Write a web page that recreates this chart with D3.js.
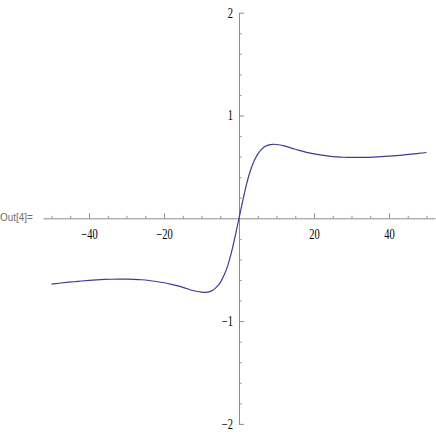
<!DOCTYPE html>
<html>
<head>
<meta charset="utf-8">
<script src="https://cdn.jsdelivr.net/npm/d3@7"></script>
<style>
  html, body { margin: 0; padding: 0; background: #fff; }
  svg { display: block; }
</style>
</head>
<body>
<svg id="chart" width="436" height="436"></svg>
<script>
// values
const curveX = [-50, -48, -46, -44, -42, -40, -38, -36, -34, -32, -30, -28, -26, -24, -22, -20,
  -18, -16, -14, -12, -10, -9, -8, -7, -6, -5, -4, -3, -2, -1, 0,
  1, 2, 3, 4, 5, 6, 7, 8, 9, 10, 12, 14, 16, 18, 20,
  22, 24, 26, 28, 30, 32, 34, 36, 38, 40, 42, 44, 46, 48, 50];
const curveY = [-0.64, -0.632, -0.624, -0.617, -0.61, -0.604, -0.599, -0.595, -0.593, -0.592, -0.592, -0.594, -0.598, -0.605, -0.615, -0.627,
  -0.642, -0.66, -0.683, -0.705, -0.718, -0.72, -0.715, -0.7, -0.67, -0.625, -0.555, -0.46, -0.33, -0.17, 0,
  0.17, 0.33, 0.46, 0.555, 0.625, 0.67, 0.7, 0.715, 0.72, 0.718, 0.705, 0.683, 0.66, 0.642, 0.627,
  0.615, 0.605, 0.598, 0.594, 0.592, 0.592, 0.593, 0.595, 0.599, 0.604, 0.61, 0.617, 0.624, 0.632, 0.64];

const xMajor = [-40, -20, 20, 40];
const xMinor = [-50, -45, -35, -30, -25, -15, -10, -5, 5, 10, 15, 25, 30, 35, 45, 50];
const yMajor = [-2, -1, 1, 2];
const yMinor = [-1.8, -1.6, -1.4, -1.2, -0.8, -0.6, -0.4, -0.2, 0.2, 0.4, 0.6, 0.8, 1.2, 1.4, 1.6, 1.8];
const outLabel = 'Out[4]=';

const svg = d3.select('#chart');

const x = d3.scaleLinear().domain([-52.27, 52.27]).range([43, 435]);
const y = d3.scaleLinear().domain([-2, 2]).range([423.9, 12.7]);

const axisColor = '#8c8c8c';
const fmt = (d) => (d < 0 ? '\u2212' + Math.abs(d) : String(d));

// x axis (ticks pointing up)
const xAxisG = svg.append('g').attr('transform', `translate(0,${y(0)})`);
xAxisG.append('g')
  .call(d3.axisBottom(x).tickValues(xMinor).tickSizeInner(-2.5).tickSizeOuter(0).tickFormat(''))
  .call((g) => g.select('.domain').remove());
xAxisG.append('g')
  .call(d3.axisBottom(x).tickValues(xMajor).tickSizeInner(-5).tickSizeOuter(0).tickPadding(11).tickFormat(fmt));

// y axis (ticks pointing right)
const yAxisG = svg.append('g').attr('transform', `translate(${x(0)},0)`);
yAxisG.append('g')
  .call(d3.axisLeft(y).tickValues(yMinor).tickSizeInner(-2.5).tickSizeOuter(0).tickFormat(''))
  .call((g) => g.select('.domain').remove());
yAxisG.append('g')
  .call(d3.axisLeft(y).tickValues(yMajor).tickSizeInner(-5).tickSizeOuter(0).tickPadding(8).tickFormat(fmt));

svg.selectAll('.domain, .tick line').attr('stroke', axisColor).attr('stroke-width', 1);
svg.selectAll('.tick text')
  .attr('fill', '#000')
  .attr('font-family', '"Liberation Serif", "Times New Roman", serif')
  .attr('font-size', 14)
  .attr('transform', 'scale(0.75,1)');

// curve
const pts = curveX.map((d, i) => [d, curveY[i]]);
const line = d3.line()
  .x((d) => x(d[0]))
  .y((d) => y(d[1]))
  .curve(d3.curveCatmullRom.alpha(0.5));

svg.append('path')
  .datum(pts)
  .attr('fill', 'none')
  .attr('stroke', '#3d3d99')
  .attr('stroke-width', 1.2)
  .attr('d', line);

// cell label
svg.append('text')
  .attr('transform', 'translate(0,220.5) scale(0.9,1)')
  .attr('font-family', '"Liberation Sans", Arial, sans-serif')
  .attr('font-size', 11)
  .attr('fill', '#6e6e6e')
  .text(outLabel);
</script>
</body>
</html>
